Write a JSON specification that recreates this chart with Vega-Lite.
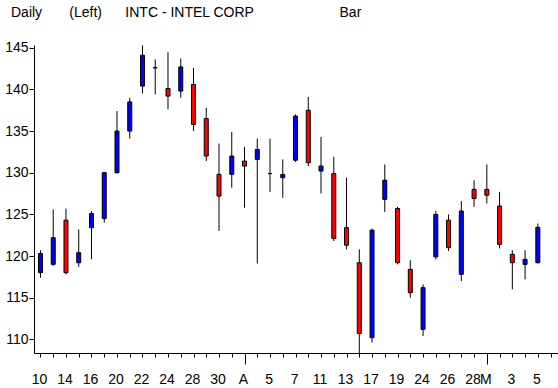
{
  "$schema": "https://vega.github.io/schema/vega-lite/v6.json",
  "width": 524,
  "height": 308,
  "autosize": {"type": "none"},
  "padding": {"left": 34, "top": 45, "right": 0, "bottom": 35},
  "background": "white",
  "config": {"view": {"stroke": null}, "font": "Liberation Sans"},
  "title": {
    "text": "Daily\u00a0\u00a0\u00a0\u00a0\u00a0\u00a0\u00a0(Left)\u00a0\u00a0\u00a0\u00a0\u00a0\u00a0INTC - INTEL CORP\u00a0\u00a0\u00a0\u00a0\u00a0\u00a0\u00a0\u00a0\u00a0\u00a0\u00a0\u00a0\u00a0\u00a0\u00a0\u00a0\u00a0\u00a0\u00a0\u00a0\u00a0\u00a0Bar",
    "anchor": "start",
    "frame": "group",
    "dx": -23,
    "offset": 10,
    "fontSize": 14,
    "fontWeight": "normal",
    "font": "Liberation Sans",
    "color": "black",
    "baseline": "alphabetic"
  },
  "data": {
    "values": [
      {"i": 0, "d": "2000-03-10", "open": 118.0, "high": 120.7, "low": 117.4, "close": 120.3},
      {"i": 1, "d": "2000-03-13", "open": 119.0, "high": 125.6, "low": 118.8, "close": 122.2},
      {"i": 2, "d": "2000-03-14", "open": 124.3, "high": 125.7, "low": 117.8, "close": 118.0},
      {"i": 3, "d": "2000-03-15", "open": 119.2, "high": 123.2, "low": 118.7, "close": 120.4},
      {"i": 4, "d": "2000-03-16", "open": 123.4, "high": 125.4, "low": 119.6, "close": 125.1},
      {"i": 5, "d": "2000-03-17", "open": 124.5, "high": 130.1, "low": 124.0, "close": 130.0},
      {"i": 6, "d": "2000-03-20", "open": 130.0, "high": 137.4, "low": 129.9, "close": 135.0},
      {"i": 7, "d": "2000-03-21", "open": 135.0, "high": 139.0, "low": 134.1, "close": 138.5},
      {"i": 8, "d": "2000-03-22", "open": 140.4, "high": 145.3, "low": 139.5, "close": 144.1},
      {"i": 9, "d": "2000-03-23", "open": 142.6, "high": 143.6, "low": 139.4, "close": 142.6},
      {"i": 10, "d": "2000-03-24", "open": 140.1, "high": 144.5, "low": 137.6, "close": 139.2},
      {"i": 11, "d": "2000-03-27", "open": 139.8, "high": 143.7, "low": 139.0, "close": 142.7},
      {"i": 12, "d": "2000-03-28", "open": 140.6, "high": 142.6, "low": 135.0, "close": 135.8},
      {"i": 13, "d": "2000-03-29", "open": 136.5, "high": 137.8, "low": 131.4, "close": 132.0},
      {"i": 14, "d": "2000-03-30", "open": 129.8, "high": 133.5, "low": 123.0, "close": 127.2},
      {"i": 15, "d": "2000-03-31", "open": 129.8, "high": 134.9, "low": 128.2, "close": 132.0},
      {"i": 16, "d": "2000-04-03", "open": 131.4, "high": 133.1, "low": 125.8, "close": 130.8},
      {"i": 17, "d": "2000-04-04", "open": 131.6, "high": 134.1, "low": 119.1, "close": 132.8},
      {"i": 18, "d": "2000-04-05", "open": 129.9, "high": 134.1, "low": 127.7, "close": 129.9},
      {"i": 19, "d": "2000-04-06", "open": 129.4, "high": 131.6, "low": 127.0, "close": 129.8},
      {"i": 20, "d": "2000-04-07", "open": 131.5, "high": 137.0, "low": 131.3, "close": 136.8},
      {"i": 21, "d": "2000-04-10", "open": 137.5, "high": 139.1, "low": 130.8, "close": 131.2},
      {"i": 22, "d": "2000-04-11", "open": 130.2, "high": 134.3, "low": 127.5, "close": 130.8},
      {"i": 23, "d": "2000-04-12", "open": 129.9, "high": 131.9, "low": 121.8, "close": 122.1},
      {"i": 24, "d": "2000-04-13", "open": 123.4, "high": 129.4, "low": 120.8, "close": 121.3},
      {"i": 25, "d": "2000-04-14", "open": 119.2, "high": 120.8, "low": 108.0, "close": 110.7},
      {"i": 26, "d": "2000-04-17", "open": 110.2, "high": 123.3, "low": 109.6, "close": 123.1},
      {"i": 27, "d": "2000-04-18", "open": 126.8, "high": 131.0, "low": 125.3, "close": 129.1},
      {"i": 28, "d": "2000-04-19", "open": 125.7, "high": 125.9, "low": 119.0, "close": 119.2},
      {"i": 29, "d": "2000-04-20", "open": 118.4, "high": 119.5, "low": 115.0, "close": 115.6},
      {"i": 30, "d": "2000-04-24", "open": 111.2, "high": 116.6, "low": 110.4, "close": 116.2},
      {"i": 31, "d": "2000-04-25", "open": 119.9, "high": 125.4, "low": 119.6, "close": 125.0},
      {"i": 32, "d": "2000-04-26", "open": 124.3, "high": 125.0, "low": 120.6, "close": 121.0},
      {"i": 33, "d": "2000-04-27", "open": 117.8, "high": 126.6, "low": 117.0, "close": 125.4},
      {"i": 34, "d": "2000-04-28", "open": 128.0, "high": 129.1, "low": 125.9, "close": 126.9},
      {"i": 35, "d": "2000-05-01", "open": 128.0, "high": 131.0, "low": 126.3, "close": 127.3},
      {"i": 36, "d": "2000-05-02", "open": 126.0, "high": 127.7, "low": 120.9, "close": 121.4},
      {"i": 37, "d": "2000-05-03", "open": 120.2, "high": 120.7, "low": 116.0, "close": 119.2},
      {"i": 38, "d": "2000-05-04", "open": 119.0, "high": 120.7, "low": 117.2, "close": 119.6},
      {"i": 39, "d": "2000-05-05", "open": 119.2, "high": 123.9, "low": 119.1, "close": 123.45}
    ]
  },
  "encoding": {
    "x": {
      "field": "i",
      "type": "quantitative",
      "scale": {"domain": [-0.1154, 40.19], "nice": false, "zero": false},
      "axis": {
        "title": null,
        "grid": false,
        "values": [0,1,2,3,4,5,6,7,8,9,10,11,12,13,14,15,16,17,18,19,20,21,22,23,24,25,26,27,28,29,30,31,32,33,34,35,36,37,38,39,40],
        "labelExpr": "['10','','14','','16','','20','','22','','24','','28','','30','','A','','5','','7','','11','','13','','17','','19','','24','','26','','28','M','','3','','5',''][datum.value]",
        "domainColor": "black",
        "domainWidth": 1,
        "tickColor": "black",
        "tickWidth": 1,
        "tickSize": {"condition": {"test": "datum.value == 16 || datum.value == 35", "value": 11}, "value": 4},
        "labelFont": "Liberation Sans",
        "labelFontSize": 14,
        "labelColor": "black",
        "labelPadding": {"condition": {"test": "datum.value == 16 || datum.value == 35", "value": 8}, "value": 15},
        "labelOverlap": false,
        "labelBound": false,
        "labelFlush": false,
        "labelOffset": -1.5
      }
    }
  },
  "layer": [
    {
      "mark": {"type": "rule", "color": "black", "strokeWidth": 1, "clip": true},
      "encoding": {
        "y": {
          "field": "low",
          "type": "quantitative",
          "scale": {"domain": [108.36, 145.33], "nice": false, "zero": false},
          "axis": {
            "title": null,
            "grid": false,
            "values": [110,112.5,115,117.5,120,122.5,125,127.5,130,132.5,135,137.5,140,142.5,145],
            "labelExpr": "datum.value % 5 == 0 ? datum.label : ''",
            "domainColor": "black",
            "domainWidth": 1,
            "tickColor": "black",
            "tickWidth": 1,
            "tickSize": {"condition": {"test": "datum.value % 5 == 0", "value": 5}, "value": 2},
            "labelFont": "Liberation Sans",
            "labelFontSize": 14,
            "labelColor": "black",
            "labelPadding": {"condition": {"test": "datum.value % 5 == 0", "value": 1}, "value": 4},
            "labelOverlap": false,
            "labelBound": false,
            "labelFlush": false
          }
        },
        "y2": {"field": "high"}
      }
    },
    {
      "mark": {"type": "bar", "width": 4, "stroke": "black", "strokeWidth": 1, "clip": true},
      "encoding": {
        "y": {"field": "open", "type": "quantitative"},
        "y2": {"field": "close"},
        "fill": {
          "condition": [
            {"test": "datum.close > datum.open", "value": "#0000ff"},
            {"test": "datum.close < datum.open", "value": "#ff0000"}
          ],
          "value": "#000000"
        }
      }
    }
  ]
}
